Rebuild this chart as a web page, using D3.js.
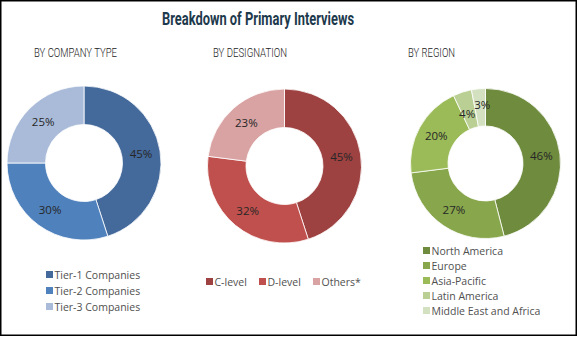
<!DOCTYPE html>
<html>
<head>
<meta charset="utf-8">
<script src="https://cdn.jsdelivr.net/npm/d3@7"></script>
<style>
  html, body { margin: 0; padding: 0; background: #fff; }
  svg { display: block; }
</style>
</head>
<body>
<svg id="chart" width="578" height="337"></svg>
<script>
// Interview breakdown data (percent shares)
const companyTypes = ["Tier-1 Companies", "Tier-2 Companies", "Tier-3 Companies"];
const companyValues = [45, 30, 25];
const companyColors = ["#44699b", "#4f81bd", "#a9bbd9"];

const designations = ["C-level", "D-level", "Others*"];
const designationValues = [45, 32, 23];
const designationColors = ["#9e4241", "#c0504d", "#d9a3a3"];

const regions = ["North America", "Europe", "Asia-Pacific", "Latin America", "Middle East and Africa"];
const regionValues = [46, 27, 20, 4, 3];
const regionColors = ["#6f8c3e", "#88a64c", "#9bbb59", "#b9cf93", "#d3e1c0"];

const svg = d3.select("#chart");
const W = 578, H = 337;

// outer frame
svg.append("rect").attr("x", 0.75).attr("y", 0.75).attr("width", W - 2.5).attr("height", H - 2.5)
  .attr("fill", "none").attr("stroke", "#000").attr("stroke-width", 1.5);

// condensed heading: squeeze glyphs into a fixed width
svg.append("text").attr("x", 162).attr("y", 25)
  .attr("font-family", "Roboto, 'Liberation Sans', sans-serif")
  .attr("font-weight", "bold").attr("font-size", 17.5).attr("fill", "#1d3a4c")
  .attr("textLength", 192).attr("lengthAdjust", "spacingAndGlyphs")
  .text("Breakdown of Primary Interviews");

const labelFont = "'Open Sans', 'Liberation Sans', sans-serif";

function donut(cfg) {
  const g = svg.append("g").attr("transform", `translate(${cfg.cx},${cfg.cy})`);
  const pie = d3.pie().sort(null).value(d => d.v);
  const arcs = pie(cfg.names.map((n, i) => ({ n, v: cfg.values[i], c: cfg.colors[i] })));
  const arc = d3.arc().innerRadius(cfg.ri).outerRadius(cfg.ro);
  const mid = d3.arc().innerRadius((cfg.ri + cfg.ro) / 2).outerRadius((cfg.ri + cfg.ro) / 2);
  g.selectAll("path").data(arcs).join("path")
    .attr("d", arc).attr("fill", d => d.data.c)
    .attr("stroke", "#fff").attr("stroke-width", 0.8);
  g.selectAll("text").data(arcs).join("text")
    .attr("transform", d => {
      const [x, y] = mid.centroid(d);
      const o = (cfg.labelOffsets && cfg.labelOffsets[d.index]) || [0, 0];
      return `translate(${x + o[0]},${y + o[1]})`;
    })
    .attr("text-anchor", "middle").attr("dy", "0.35em")
    .attr("font-family", labelFont).attr("font-size", 11.5).attr("fill", "#262626")
    .text(d => d.data.v + "%");

  // thin condensed section heading
  svg.append("text").attr("x", cfg.titleX).attr("y", 57)
    .attr("font-family", "Roboto, 'Liberation Sans', sans-serif").attr("font-weight", 300)
    .attr("font-size", 12.5).attr("fill", "#1a1a1a")
    .attr("textLength", cfg.titleW).attr("lengthAdjust", "spacingAndGlyphs")
    .text(cfg.title);
}

donut({ cx: 84, cy: 163, ri: 38.5, ro: 77, names: companyTypes, values: companyValues,
  colors: companyColors, title: "BY COMPANY TYPE", titleX: 34, titleW: 83 });
donut({ cx: 284.5, cy: 166, ri: 38.5, ro: 77, names: designations, values: designationValues,
  colors: designationColors, title: "BY DESIGNATION", titleX: 213, titleW: 74 });
donut({ cx: 485.5, cy: 163.5, ri: 37.5, ro: 75, names: regions, values: regionValues,
  colors: regionColors, title: "BY REGION", titleX: 408, titleW: 47,
  labelOffsets: [[0, 0], [0, 0], [0, 0], [-1, 4], [2, -3]] });

function legendItem(x, y, color, label) {
  svg.append("rect").attr("x", x).attr("y", y - 4).attr("width", 7).attr("height", 7).attr("fill", color);
  svg.append("text").attr("x", x + 8.5).attr("y", y).attr("dy", "0.35em")
    .attr("font-family", labelFont).attr("font-size", 10.5).attr("fill", "#505050")
    .text(label);
}

const legendY1 = d3.scalePoint().domain(companyTypes).range([275, 307]);
companyTypes.forEach((n, i) => legendItem(46, legendY1(n), companyColors[i], n));

const legendX2 = [206, 259, 313];
designations.forEach((n, i) => legendItem(legendX2[i], 282, designationColors[i], n));

const legendY3 = d3.scalePoint().domain(regions).range([251, 311]);
regions.forEach((n, i) => legendItem(423, legendY3(n), regionColors[i], n));
</script>
</body>
</html>
